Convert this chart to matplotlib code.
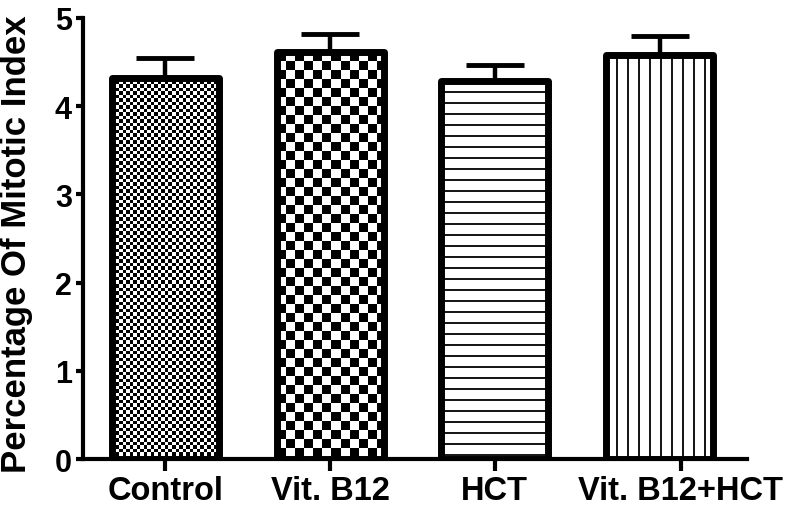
import numpy as np
import matplotlib
matplotlib.use("Agg")
import matplotlib.pyplot as plt

plt.rcParams['font.family'] = ['Liberation Sans', 'DejaVu Sans']
plt.rcParams['font.weight'] = 'bold'

groups = ["Control", "Vit. B12", "HCT", "Vit. B12+HCT"]
means = [4.32, 4.61, 4.28, 4.58]
errors = [0.23, 0.21, 0.19, 0.22]
patterns = ["fine_check", "coarse_check", "hlines", "vlines"]


def checker(ax, bar, sq_px):
    # checkerboard image clipped to the bar
    x0, y0 = bar.get_x(), bar.get_y()
    w, h = bar.get_width(), bar.get_height()
    p0 = ax.transData.transform((x0, y0))
    p1 = ax.transData.transform((x0 + w, y0 + h))
    nx = int(np.ceil((p1[0] - p0[0]) / sq_px)) + 1
    ny = int(np.ceil((p1[1] - p0[1]) / sq_px)) + 1
    dx = w * sq_px / (p1[0] - p0[0])
    dy = h * sq_px / (p1[1] - p0[1])
    img = (np.indices((ny, nx)).sum(axis=0) % 2).astype(float)
    im = ax.imshow(img, cmap='gray', vmin=0, vmax=1, interpolation='nearest',
                   extent=(x0, x0 + nx * dx, y0 + h - ny * dy, y0 + h),
                   aspect='auto', zorder=1.5, origin='upper')
    im.set_clip_path(bar)


def lines(ax, bar, step_px, vertical):
    x0, y0 = bar.get_x(), bar.get_y()
    w, h = bar.get_width(), bar.get_height()
    p0 = ax.transData.transform((x0, y0))
    p1 = ax.transData.transform((x0 + w, y0 + h))
    if vertical:
        step = w * step_px / (p1[0] - p0[0])
        xs = np.arange(x0 + step, x0 + w, step)
        lc = ax.vlines(xs, y0, y0 + h, color='black', lw=1.3, zorder=1.5)
    else:
        step = h * step_px / (p1[1] - p0[1])
        ys = np.arange(y0 + h - step, y0, -step)
        lc = ax.hlines(ys, x0, x0 + w, color='black', lw=1.3, zorder=1.5)
    lc.set_clip_path(bar)


fig = plt.figure(figsize=(7.87, 5.06), dpi=100)
ax = fig.add_axes([0.1055, 0.0909, 0.8435, 0.8716])
x = np.arange(len(groups))

ax.set_xlim(-0.5, 3.53)
ax.set_ylim(0, 5)

bars = ax.bar(x, means, width=0.65, color='white', edgecolor='none', zorder=1)
ax.errorbar(x, means, yerr=[np.zeros(len(errors)), errors], fmt='none',
            ecolor='black', elinewidth=3.2, capsize=21, capthick=3.5, zorder=1.8)
ax.bar(x, means, width=0.65, fill=False, edgecolor='black', linewidth=5,
       joinstyle='round', zorder=3)

for bar, pat in zip(bars, patterns):
    if pat == "fine_check":
        checker(ax, bar, 3.5)
    elif pat == "coarse_check":
        checker(ax, bar, 9)
    elif pat == "hlines":
        lines(ax, bar, 11, vertical=False)
    else:
        lines(ax, bar, 11, vertical=True)

for s in ['top', 'right']:
    ax.spines[s].set_visible(False)
for s in ['left', 'bottom']:
    ax.spines[s].set_linewidth(3)

ax.set_yticks([0, 1, 2, 3, 4, 5])
ax.set_xticks([0, 1, 2, 3.13])
ax.set_xticklabels(groups)
ax.tick_params(axis='y', length=5, width=3, labelsize=22, pad=3)
ax.tick_params(axis='x', length=8.5, width=3, labelsize=23.5, pad=3)
ax.set_ylabel("Percentage Of Mitotic Index", fontsize=25, fontweight='bold')
ax.yaxis.set_label_coords(-0.076, 0.49)

fig.savefig("out.png", dpi=100)
